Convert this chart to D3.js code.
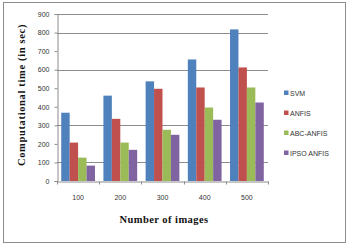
<!DOCTYPE html>
<html><head><meta charset="utf-8">
<script src="https://cdn.jsdelivr.net/npm/d3@7"></script>
<style>body{margin:0;background:#fff}svg{display:block}</style>
</head><body>
<svg id="c" width="353" height="250"></svg>
<script>
const categories = ["100","200","300","400","500"];
const seriesNames = ["SVM","ANFIS","ABC-ANFIS","IPSO ANFIS"];
const svmValues = [368, 460, 537, 655, 817];
const anfisValues = [207, 335, 497, 504, 612];
const abcAnfisValues = [126, 207, 276, 396, 504];
const ipsoAnfisValues = [83, 168, 249, 330, 423];
const yTicks = [0,100,200,300,400,500,600,700,800,900];
const gridValues = [100,300,600,800,900];
const colors = ["#4F81BD","#C0504D","#9BBB59","#8064A2"];

(function(){
const seriesValues = [svmValues, anfisValues, abcAnfisValues, ipsoAnfisValues];
const svg = d3.select("#c");
const pLeft = 57, pRight = 268, pTop = 14, pBottom = 181;

svg.append("rect").attr("x",3.5).attr("y",2.5).attr("width",342).attr("height",240)
  .attr("fill","#fff").attr("stroke","#8c8c8c").attr("stroke-width",1);

const x = d3.scaleBand().domain(categories).range([pLeft, pRight]).paddingInner(0.2).paddingOuter(0.1);
const x1 = d3.scaleBand().domain(seriesNames).range([0, x.bandwidth()]);
const y = d3.scaleLinear().domain([0, 900]).range([pBottom, pTop]);

svg.append("g").selectAll("line").data(gridValues).join("line")
  .attr("x1", pLeft).attr("x2", pRight)
  .attr("y1", d => Math.round(y(d))+0.5).attr("y2", d => Math.round(y(d))+0.5)
  .attr("stroke","#8c8c8c").attr("stroke-width",1);

const groups = svg.append("g").selectAll("g").data(categories).join("g")
  .attr("transform", c => `translate(${x(c)},0)`);
groups.selectAll("rect").data((c,i) => seriesNames.map((s,j) => ({s, v: seriesValues[j][i], j})))
  .join("rect")
  .attr("x", d => x1(d.s)).attr("width", x1.bandwidth())
  .attr("y", d => y(d.v)).attr("height", d => y(0) - y(d.v))
  .attr("fill", d => colors[d.j]);

const yAxis = d3.axisLeft(y).tickValues(yTicks).tickSize(3).tickPadding(5);
const ya = svg.append("g").attr("transform", `translate(${pLeft+0.5},0)`).call(yAxis);
ya.select(".domain").attr("stroke","#8c8c8c");
ya.selectAll(".tick line").attr("stroke","#8c8c8c");
ya.selectAll("text").attr("font-family","Liberation Sans, Arial, sans-serif").attr("font-size",7).attr("fill","#333");

const xAxis = d3.axisBottom(x).tickSize(0).tickPadding(14);
const xa = svg.append("g").attr("transform", `translate(0,${pBottom+0.5})`).call(xAxis);
xa.select(".domain").attr("stroke","#8c8c8c");
xa.selectAll("text").attr("font-family","Liberation Sans, Arial, sans-serif").attr("font-size",7).attr("fill","#333");
const bounds = d3.range(categories.length + 1).map(i => pLeft + i * (pRight-pLeft)/categories.length);
xa.selectAll(".sep").data(bounds).join("line").attr("class","sep")
  .attr("x1", d => Math.round(d)+0.5).attr("x2", d => Math.round(d)+0.5)
  .attr("y1", 0).attr("y2", 3).attr("stroke","#8c8c8c");

svg.append("text").attr("x", 164).attr("y", 223)
  .attr("text-anchor","middle").attr("font-family","Liberation Serif, Times New Roman, serif")
  .attr("font-weight","bold").attr("font-size",10.5).attr("letter-spacing",0.45).attr("fill","#111").text("Number of images");
svg.append("text").attr("transform","translate(25,95) rotate(-90)")
  .attr("text-anchor","middle").attr("font-family","Liberation Serif, Times New Roman, serif")
  .attr("font-weight","bold").attr("font-size",10.5).attr("letter-spacing",0.65).attr("fill","#111").text("Computational time (in sec)");

const lg = svg.append("g").selectAll("g").data(seriesNames).join("g")
  .attr("transform", (d,i) => `translate(284,${93 + i*20})`);
lg.append("rect").attr("x",0).attr("y",-2.5).attr("width",4.5).attr("height",4.5).attr("fill",(d,i)=>colors[i]);
lg.append("text").attr("x",6).attr("y",2.6).attr("font-family","Liberation Sans, Arial, sans-serif")
  .attr("font-size",7).attr("fill","#333").text(d => d);
})();
</script>
</body></html>
